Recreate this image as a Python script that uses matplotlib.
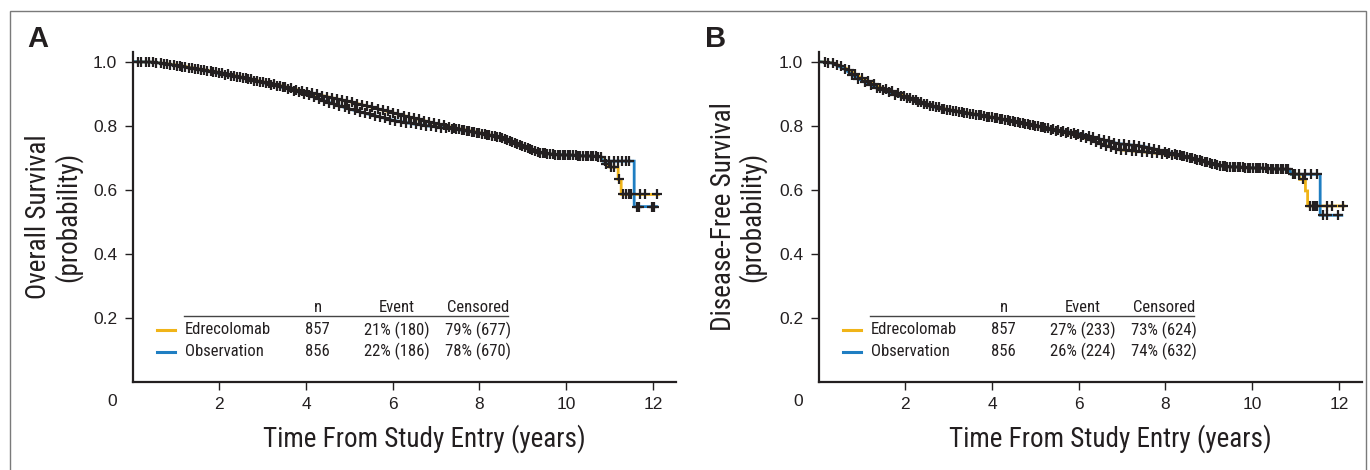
import numpy as np
import matplotlib
matplotlib.use("Agg")
import matplotlib.pyplot as plt
from matplotlib.patches import Rectangle

W, H = 1370, 470

# ---- panel A: overall survival ----
os_edr_t = [0, 0.5, 1.0, 1.5, 2.0, 2.5, 3.0, 3.5, 4.0, 4.5, 5.0, 5.5, 6.0, 6.5, 7.0, 7.5,
            8.0, 8.5, 9.0, 9.4, 9.7, 10.2, 10.8, 10.9, 11.0, 11.2, 11.2, 11.27, 11.27, 12.13]
os_edr_s = [1.0, 0.998, 0.99, 0.978, 0.966, 0.952, 0.937, 0.922, 0.905, 0.89, 0.875, 0.858, 0.84, 0.823, 0.806, 0.791,
            0.778, 0.763, 0.735, 0.716, 0.71, 0.707, 0.703, 0.685, 0.67, 0.67, 0.632, 0.632, 0.585, 0.585]
os_obs_t = [0, 0.5, 1.0, 1.5, 2.0, 2.5, 3.0, 3.5, 4.0, 4.5, 5.0, 5.5, 6.0, 6.5, 7.0, 7.5,
            8.0, 8.5, 9.0, 9.4, 9.7, 10.2, 10.8, 10.85, 11.57, 11.57, 12.09]
os_obs_s = [1.0, 0.998, 0.988, 0.976, 0.963, 0.95, 0.935, 0.918, 0.898, 0.874, 0.852, 0.834, 0.817, 0.805, 0.796, 0.788,
            0.777, 0.762, 0.735, 0.716, 0.71, 0.707, 0.703, 0.689, 0.689, 0.547, 0.547]

os_edr_cens = [0.12, 0.31, 0.47, 0.66, 0.79, 0.95, 1.09, 1.22, 1.38, 1.5, 1.64, 1.8, 1.92, 2.06, 2.2, 2.34, 2.47,
               2.61, 2.72, 2.88, 3.0, 3.14, 3.26, 3.41, 3.52, 3.66, 3.78, 3.9, 4.03, 4.13, 4.25, 4.37, 4.48,
               4.6, 4.71, 4.82, 4.95, 5.06, 5.18, 5.3, 5.41, 5.53, 5.66, 5.77, 5.88, 6.0, 6.12, 6.25, 6.37,
               6.48, 6.6, 6.72, 6.83, 6.95, 7.07, 7.18, 7.3, 7.42, 7.53, 7.65, 7.77, 7.88, 8.0, 8.12, 8.23,
               8.35, 8.47, 8.58, 8.7, 8.82, 8.93, 9.05, 9.17, 9.28, 9.4, 9.52, 9.63, 9.75, 9.87, 9.98, 10.1,
               10.22, 10.33, 10.45, 10.57, 10.68, 10.8, 10.93, 11.03, 11.1, 11.22, 11.31, 11.37, 11.44, 11.5,
               11.7, 11.82, 12.09]
os_obs_cens = [0.2, 0.38, 0.55, 0.72, 0.86, 1.02, 1.15, 1.3, 1.44, 1.57, 1.71, 1.86, 1.99, 2.13, 2.27, 2.4, 2.54,
               2.67, 2.8, 2.94, 3.07, 3.2, 3.33, 3.46, 3.59, 3.72, 3.84, 3.96, 4.08, 4.19, 4.31, 4.42, 4.54,
               4.65, 4.77, 4.89, 5.0, 5.12, 5.24, 5.36, 5.47, 5.59, 5.71, 5.82, 5.94, 6.06, 6.18, 6.31, 6.42,
               6.54, 6.66, 6.77, 6.89, 7.01, 7.12, 7.24, 7.36, 7.47, 7.59, 7.71, 7.82, 7.94, 8.06, 8.18, 8.29,
               8.41, 8.52, 8.64, 8.76, 8.87, 8.99, 9.11, 9.22, 9.34, 9.46, 9.57, 9.69, 9.81, 9.92, 10.04, 10.16,
               10.27, 10.39, 10.51, 10.62, 10.74, 10.9, 11.0, 11.1, 11.2, 11.3, 11.38, 11.46, 11.63, 11.69,
               11.97, 12.03]

# ---- panel B: disease-free survival ----
dfs_edr_t = [0, 0.3, 0.6, 0.8, 1.0, 1.4, 1.8, 2.2, 2.6, 3.0, 3.7, 4.1, 5.0, 5.34, 6.0, 6.9, 7.5,
             8.4, 9.33, 10.0, 10.87, 10.9, 11.1, 11.1, 11.23, 11.23, 11.28, 11.28, 12.12]
dfs_edr_s = [1.0, 0.997, 0.982, 0.965, 0.948, 0.92, 0.902, 0.882, 0.862, 0.85, 0.834, 0.824, 0.8, 0.788, 0.768, 0.725, 0.718,
             0.705, 0.673, 0.668, 0.663, 0.648, 0.648, 0.632, 0.632, 0.596, 0.596, 0.549, 0.549]
dfs_obs_t = [0, 0.3, 0.6, 0.8, 1.0, 1.4, 1.8, 2.2, 2.6, 3.0, 3.7, 4.1, 5.0, 5.34, 6.0, 6.9, 7.5,
             8.4, 9.33, 10.0, 10.87, 10.9, 11.57, 11.57, 12.07]
dfs_obs_s = [1.0, 0.996, 0.976, 0.956, 0.94, 0.915, 0.895, 0.88, 0.86, 0.848, 0.833, 0.823, 0.8, 0.79, 0.775, 0.744, 0.735,
             0.705, 0.673, 0.668, 0.663, 0.648, 0.648, 0.52, 0.52]

dfs_edr_cens = [0.14, 0.33, 0.52, 0.7, 0.84, 0.99, 1.13, 1.27, 1.42, 1.55, 1.69, 1.83, 1.96, 2.1, 2.24, 2.37, 2.5,
                2.64, 2.77, 2.9, 3.04, 3.17, 3.3, 3.43, 3.56, 3.69, 3.81, 3.94, 4.06, 4.18, 4.3, 4.42, 4.53,
                4.65, 4.77, 4.88, 5.0, 5.12, 5.23, 5.35, 5.47, 5.58, 5.7, 5.82, 5.93, 6.05, 6.17, 6.28, 6.4,
                6.52, 6.63, 6.75, 6.87, 6.98, 7.1, 7.22, 7.33, 7.45, 7.57, 7.68, 7.8, 7.92, 8.03, 8.15, 8.27,
                8.38, 8.5, 8.62, 8.73, 8.85, 8.97, 9.08, 9.2, 9.32, 9.43, 9.55, 9.67, 9.78, 9.9, 10.02, 10.13,
                10.25, 10.37, 10.48, 10.6, 10.72, 10.83, 11.0, 11.17, 11.34, 11.4, 11.46, 11.5, 11.73, 11.85,
                12.1]
dfs_obs_cens = [0.22, 0.42, 0.6, 0.77, 0.91, 1.06, 1.2, 1.34, 1.48, 1.62, 1.76, 1.9, 2.03, 2.17, 2.3, 2.44, 2.57,
                2.7, 2.84, 2.97, 3.1, 3.23, 3.36, 3.49, 3.62, 3.75, 3.88, 4.0, 4.12, 4.24, 4.36, 4.48, 4.59,
                4.71, 4.83, 4.94, 5.06, 5.18, 5.29, 5.41, 5.53, 5.64, 5.76, 5.88, 5.99, 6.11, 6.23, 6.34, 6.46,
                6.58, 6.69, 6.81, 6.93, 7.04, 7.16, 7.28, 7.39, 7.51, 7.63, 7.74, 7.86, 7.98, 8.09, 8.21, 8.33,
                8.44, 8.56, 8.68, 8.79, 8.91, 9.03, 9.14, 9.26, 9.38, 9.49, 9.61, 9.73, 9.84, 9.96, 10.08, 10.19,
                10.31, 10.43, 10.54, 10.66, 10.78, 10.95, 11.08, 11.22, 11.36, 11.5, 11.64, 11.73, 11.99]

groups = ["Edrecolomab", "Observation"]
n_pat = ["857", "856"]
os_events = ["21% (180)", "22% (186)"]
os_censored = ["79% (677)", "78% (670)"]
dfs_events = ["27% (233)", "26% (224)"]
dfs_censored = ["73% (624)", "74% (632)"]
header = ["n", "Event", "Censored"]

yticks = [0.2, 0.4, 0.6, 0.8, 1.0]
xticks = [2, 4, 6, 8, 10, 12]

c_edr = "#F0B418"
c_obs = "#1F7EC2"
ink = "#231F20"

narrow = ["Roboto Condensed", "DejaVu Sans"]
plain = ["Liberation Sans", "DejaVu Sans"]


def fx(x):
    return x / W


def fy(y):
    return 1 - y / H


fig = plt.figure(figsize=(W / 100, H / 100), dpi=100)
fig.patches.append(Rectangle((fx(10), fy(472)), fx(1356), (472 - 11) / H, transform=fig.transFigure,
                             fill=False, edgecolor="#7a7a7a", linewidth=1.0))

panels = [
    dict(x0=132.6, letter="A", lx=27, ylx=53.5, ylab="Overall Survival\n(probability)",
         curves=[(os_edr_t, os_edr_s, os_edr_cens, c_edr), (os_obs_t, os_obs_s, os_obs_cens, c_obs)],
         ev=os_events, ce=os_censored),
    dict(x0=818.6, letter="B", lx=705, ylx=738, ylab="Disease-Free Survival\n(probability)",
         curves=[(dfs_edr_t, dfs_edr_s, dfs_edr_cens, c_edr), (dfs_obs_t, dfs_obs_s, dfs_obs_cens, c_obs)],
         ev=dfs_events, ce=dfs_censored),
]

for p in panels:
    x0 = p["x0"]
    ax = fig.add_axes([fx(x0), fy(381.7), 543.2 / W, 330 / H])
    for t, s, cens, col in p["curves"]:
        ax.plot(t, s, color=col, lw=2.0, zorder=2, solid_joinstyle="miter")
    for t, s, cens, col in p["curves"]:
        # censor marks sit on the curve
        cy = np.interp(cens, t, s)
        ax.plot(cens, cy, ls="none", marker="+", ms=7, mew=1.6, color=ink, zorder=3)
    ax.set_xlim(0, 12.53)
    ax.set_ylim(0, 1.031)
    for side in ["top", "right"]:
        ax.spines[side].set_visible(False)
    for side in ["left", "bottom"]:
        ax.spines[side].set_linewidth(1.6)
        ax.spines[side].set_color(ink)
    ax.set_yticks(yticks)
    ax.set_yticklabels([f"{v:.1f}" for v in yticks])
    ax.set_xticks(xticks)
    ax.set_xticklabels([str(v) for v in xticks])
    ax.tick_params(direction="out", length=6, width=1.0, color=ink, labelcolor=ink, labelsize=12.5, pad=5)
    for lab in ax.get_xticklabels() + ax.get_yticklabels():
        lab.set_fontfamily(plain)
    fig.text(fx(x0 - 20), fy(402), "0", ha="center", va="center", fontsize=12.5, color=ink, family=plain)

    # axis titles
    fig.text(fx(x0 + 292), fy(439), "Time From Study Entry (years)", ha="center", va="center",
             fontsize=19.5, color=ink, family=narrow)
    fig.text(fx(p["ylx"]), fy(217), p["ylab"], ha="center", va="center", rotation=90,
             fontsize=19.5, color=ink, family=narrow, linespacing=1.05, multialignment="center")
    fig.text(fx(p["lx"]), fy(39), p["letter"], ha="left", va="center", fontsize=21,
             fontweight="bold", color=ink, family=plain)

    # statistics table
    cols = [x0 + 185.1, x0 + 264.1, x0 + 345.1]
    fig.lines.append(plt.Line2D([fx(x0 + 51.4), fx(x0 + 375.4)], [fy(315.5), fy(315.5)],
                                transform=fig.transFigure, color="#444444", lw=1.0))
    for cx, h in zip(cols, header):
        fig.text(fx(cx), fy(307), h, ha="center", va="center", fontsize=12, color=ink, family=narrow)
    for i, (g, col) in enumerate(zip(groups, [c_edr, c_obs])):
        yy = 330 + i * 21.7
        fig.lines.append(plt.Line2D([fx(x0 + 24), fx(x0 + 42.5)], [fy(yy), fy(yy)],
                                    transform=fig.transFigure, color=col, lw=2.2))
        fig.text(fx(x0 + 52), fy(yy), g, ha="left", va="center", fontsize=12, color=ink, family=narrow)
        fig.text(fx(cols[0]), fy(yy), n_pat[i], ha="center", va="center", fontsize=12, color=ink, family=narrow)
        fig.text(fx(cols[1]), fy(yy), p["ev"][i], ha="center", va="center", fontsize=12, color=ink, family=narrow)
        fig.text(fx(cols[2]), fy(yy), p["ce"][i], ha="center", va="center", fontsize=12, color=ink, family=narrow)

fig.savefig("out.png", dpi=100)
